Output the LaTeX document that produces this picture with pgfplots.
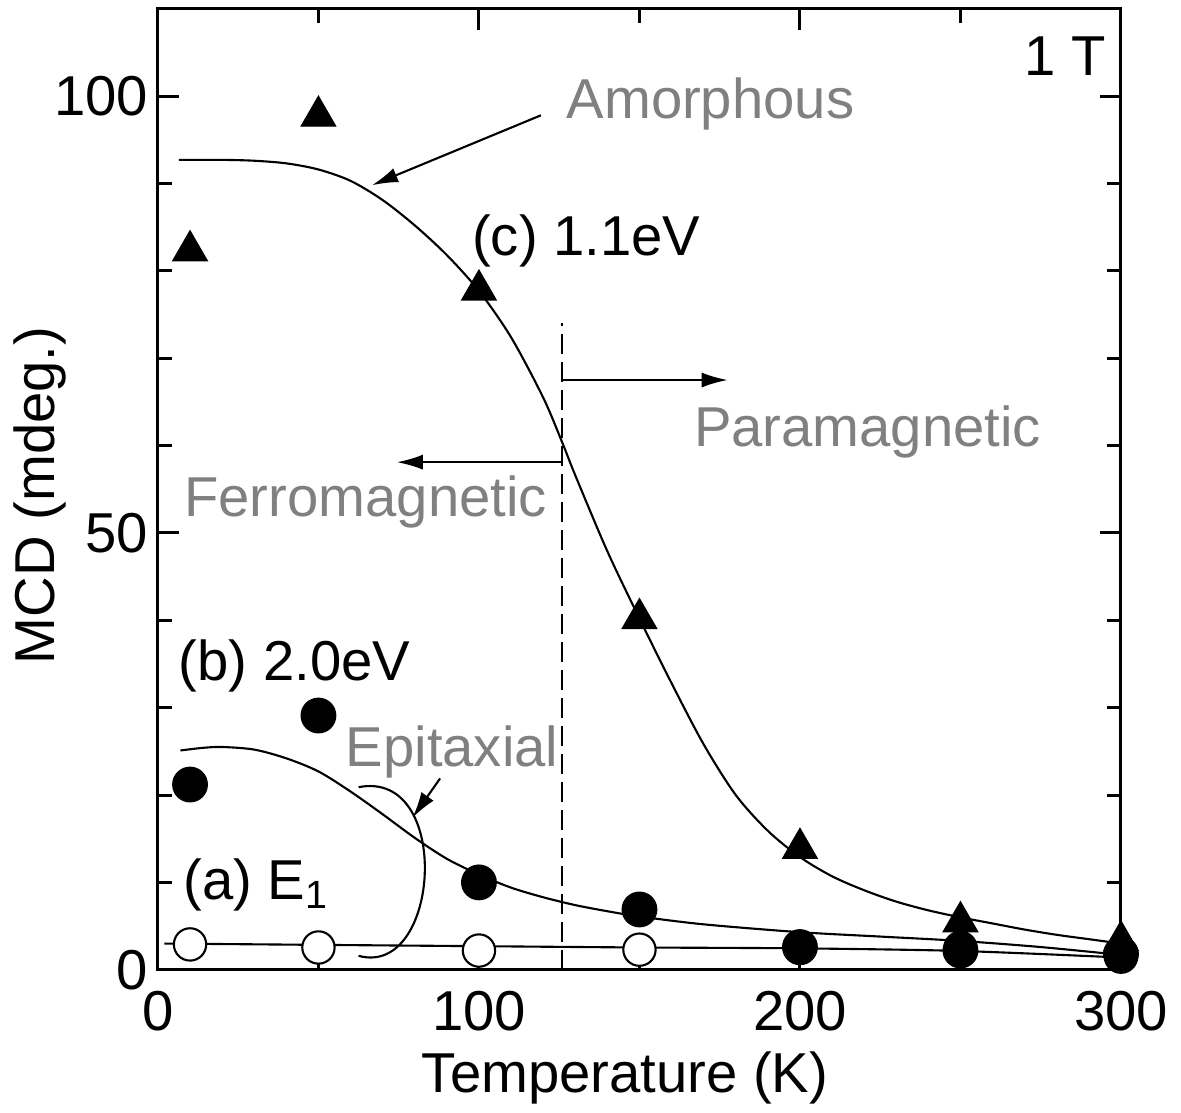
\documentclass[border=0pt]{standalone}
\usepackage{fontspec}
\setmainfont{Liberation Sans}
\usepackage{pgfplots}
\pgfplotsset{compat=1.18}
\usetikzlibrary{arrows.meta}
\definecolor{annot}{gray}{0.5}

\begin{document}
\begin{tikzpicture}[font=\fontsize{16}{19}\selectfont, every node/.append style={inner sep=0pt}]
\begin{axis}[
    scale only axis,
    width=9.63cm, height=9.61cm,
    xmin=0, xmax=300, ymin=0, ymax=110,
    xtick={0,100,200,300}, minor xtick={50,150,250},
    ytick={0,50,100}, minor ytick={10,20,30,40,60,70,80,90},
    tick align=inside,
    major tick length=0.21cm, minor tick length=0.14cm,
    every tick/.style={black, line width=0.85pt},
    axis line style={line width=0.85pt},
    /pgf/number format/assume math mode=true,
    xticklabel style={yshift=-0.21cm},
    yticklabel style={xshift=-0.09cm},
    clip=false,
]
% fitted curves
\addplot[black, line width=0.6pt, smooth, tension=0.5] coordinates {
 (6.5,92.7) (20,92.7) (30,92.6) (40,92.3) (50,91.6) (60,90.3) (70,88.1) (80,85.2)
 (90,81.8) (100,77.7) (110,72.4) (120,65.5) (126,60.3) (130,56.6) (140,47.9) (150,40.2)
 (160,32.8) (170,25.8) (180,20.0) (190,15.9) (200,12.9) (210,10.7) (220,9.1) (230,7.8)
 (240,6.8) (250,6.0) (260,5.3) (270,4.6) (280,4.0) (290,3.5) (300,3.0)};
\addplot[black, line width=0.6pt, smooth, tension=0.5] coordinates {
 (7,25.1) (14,25.4) (20,25.5) (30,25.2) (40,24.2) (50,22.7) (60,20.4) (70,17.8) (80,15.1)
 (90,12.7) (100,10.9) (110,9.4) (120,8.3) (130,7.4) (140,6.7) (150,6.1) (170,5.2)
 (200,4.3) (225,3.8) (250,3.3) (275,2.6) (300,1.7)};
\addplot[black, line width=0.6pt, smooth, tension=0.5] coordinates {
 (2,3.0) (50,2.85) (100,2.7) (150,2.55) (200,2.45) (250,2.15) (300,1.4)};

% (a) E1, open circles
\addplot[only marks, mark=*, mark size=4.6pt, mark options={draw=black, fill=white, line width=0.6pt}] coordinates {
 (10,2.9) (50,2.55) (100,2.2) (150,2.3) (200,2.5) (250,2.5) (300,1.5)};
% (b) 2.0eV, filled circles
\addplot[only marks, mark=*, mark size=4.9pt, mark options={draw=black, fill=black}] coordinates {
 (10,21.2) (50,29.1) (100,10.0) (150,6.9) (200,2.6) (250,2.2) (300,1.8)};
% (c) 1.1eV, triangles
\addplot[only marks, mark=triangle*, mark size=5.6pt, mark options={draw=black, fill=black}] coordinates {
 (10,82.3) (50,97.7) (100,77.8) (150,40.2) (200,13.9) (250,5.5) (300,3.3)};

% annotations
\draw[dash pattern=on 0.2cm off 0.08cm, line width=0.6pt] (axis cs:126,0) -- (axis cs:126,74);
\draw[line width=0.6pt, -{Latex[length=0.26cm,width=0.15cm]}] (axis cs:126,67.5) -- (axis cs:177.5,67.5);
\draw[line width=0.6pt, -{Latex[length=0.26cm,width=0.15cm]}] (axis cs:126,58.1) -- (axis cs:74.4,58.1);
\draw[line width=0.6pt, -{Latex[length=0.26cm,width=0.15cm]}] (axis cs:119.3,97.8) -- (axis cs:66.7,89.8);
\draw[line width=0.6pt, -{Latex[length=0.26cm,width=0.15cm]}] (axis cs:87.9,21.9) -- (axis cs:79.3,17.4);
\draw[line width=0.6pt] (axis cs:62.5,20.9) .. controls (axis cs:92,23) and (axis cs:88,-1) .. (axis cs:62.5,1.6);

\node[anchor=base east] at (axis cs:295.6,102.3) {1 T};
\node[anchor=base west, text=annot] at (axis cs:127.1,97.4) {Amorphous};
\node[anchor=base west] at (axis cs:97.7,81.8) {(c) 1.1eV};
\node[anchor=base west, text=annot] at (axis cs:166.8,59.9) {Paramagnetic};
\node[anchor=base west, text=annot] at (axis cs:8.0,51.9) {Ferromagnetic};
\node[anchor=base west] at (axis cs:6.3,33.1) {(b) 2.0eV};
\node[anchor=base west, text=annot] at (axis cs:58.3,23.25) {Epitaxial};
\node[anchor=base west] at (axis cs:7.8,8.0) {(a) E\textsubscript{1}};

% axis labels
\node[anchor=base] at (axis cs:145.5,-14.1) {Temperature (K)};
\node[anchor=base, rotate=90] at (axis cs:-32.1,54.3) {MCD (mdeg.)};

\coordinate (bbsw) at (axis cs:-49.2,-16.3);
\coordinate (bbne) at (axis cs:318.7,111);
\end{axis}
\path (bbsw) rectangle (bbne);
\end{tikzpicture}
\end{document}
